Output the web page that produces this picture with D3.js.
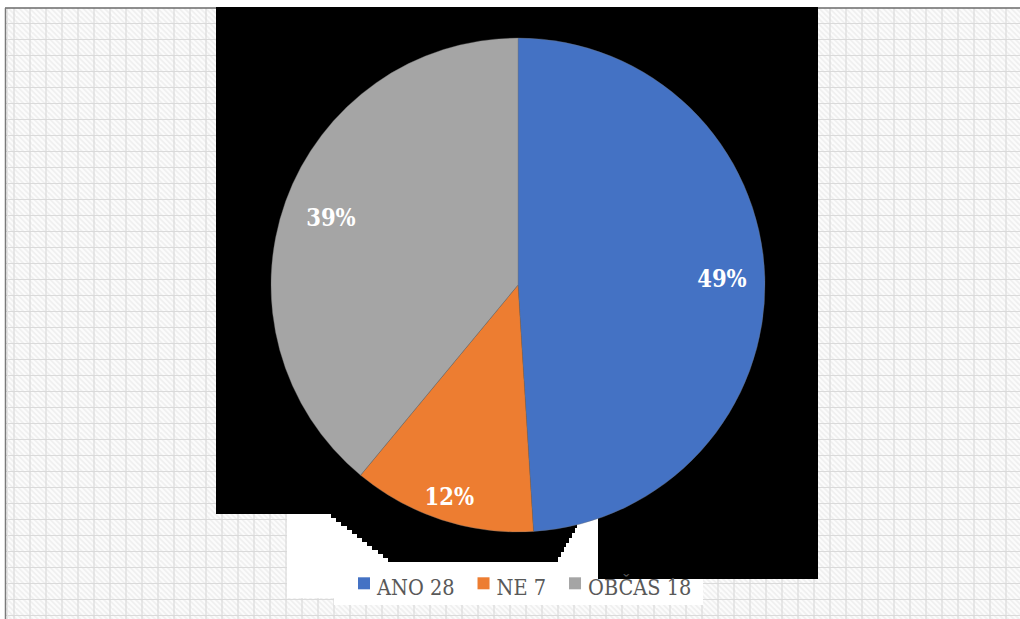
<!DOCTYPE html>
<html>
<head>
<meta charset="utf-8">
<script src="https://cdn.jsdelivr.net/npm/d3@7"></script>
<style>
  html, body { margin: 0; padding: 0; background: #ffffff; overflow: hidden; }
  svg { display: block; }
</style>
</head>
<body>
<svg id="chart" width="1020" height="619"></svg>
<script>
// Survey answers
const categories = ["ANO", "NE", "OBČAS"];
const answerCounts = [28, 7, 18];
const sharePercent = [49, 12, 39];
const sliceColors = ["#4472C4", "#ED7D31", "#A5A5A5"];

const W = 1020, H = 619;
const svg = d3.select("#chart");
const defs = svg.append("defs");

// ---- sheet background: diagonal hatching + cell grid ----
const hatch = defs.append("pattern")
  .attr("id", "hatch").attr("patternUnits", "userSpaceOnUse")
  .attr("width", 16).attr("height", 16);
hatch.append("rect").attr("width", 16).attr("height", 16).attr("fill", "#fcfcfc");
d3.range(-2, 6).forEach(k => {
  const off = k * 16 / 3;
  hatch.append("line")
    .attr("x1", off - 2).attr("y1", -2).attr("x2", off + 18).attr("y2", 18)
    .attr("stroke", "#f0f0f0").attr("stroke-width", 1.8);
});

const sheet = svg.append("g");
sheet.append("rect").attr("x", 5).attr("y", 8).attr("width", W - 5).attr("height", H - 8)
  .attr("fill", "url(#hatch)");

const gridX = d3.range(14, W, 16);
const gridY = d3.range(23.5, H, 16);
sheet.selectAll("line.gx").data(gridX).join("line").attr("class", "gx")
  .attr("x1", d => d).attr("x2", d => d).attr("y1", 8).attr("y2", H)
  .attr("stroke", "#dadada").attr("stroke-width", 1.2);
sheet.selectAll("line.gy").data(gridY).join("line").attr("class", "gy")
  .attr("x1", 5).attr("x2", W).attr("y1", d => d).attr("y2", d => d)
  .attr("stroke", "#dadada").attr("stroke-width", 1.2);
sheet.append("line").attr("x1", 7.5).attr("x2", 7.5).attr("y1", 8).attr("y2", H)
  .attr("stroke", "#e4e4e4").attr("stroke-width", 1);
sheet.append("line").attr("x1", 5).attr("x2", W).attr("y1", 8).attr("y2", 8)
  .attr("stroke", "#6a6a6a").attr("stroke-width", 1.5);
sheet.append("line").attr("x1", 5.5).attr("x2", 5.5).attr("y1", 8).attr("y2", H)
  .attr("stroke", "#7a7a7a").attr("stroke-width", 1.5);

// ---- chart area fills ----
const plate = svg.append("g").attr("shape-rendering", "crispEdges");
plate.append("path").attr("fill", "#ffffff")
  .attr("d", "M287,514 H598 V562 H703 V605 H334 V598 H287 Z");

// stepped edge between two corners
function stairs(x0, y0, x1, y1, n) {
  let s = "";
  for (let i = 1; i <= n; i++) {
    const xa = x0 + (x1 - x0) * i / n;
    const ya = y0 + (y1 - y0) * i / n;
    s += ` H${xa.toFixed(1)} V${ya.toFixed(1)}`;
  }
  return s;
}
plate.append("path").attr("fill", "#000000")
  .attr("d", "M216,7 H818 V579 H598 V518 H580 V523" +
    stairs(580, 523, 558, 562, 8) +
    " H393" + stairs(393, 562, 331, 514, 12) +
    " H216 Z");

// ---- pie ----
const cx = 518, cy = 285, R = 247;
const pie = d3.pie().sort(null).value(d => d.share);
const rows = categories.map((c, i) => ({ name: c, count: answerCounts[i], share: sharePercent[i], color: sliceColors[i] }));
const arcs = pie(rows);
const arc = d3.arc().innerRadius(0).outerRadius(R);

const g = svg.append("g").attr("transform", `translate(${cx},${cy})`);
g.selectAll("path.slice").data(arcs).join("path").attr("class", "slice")
  .attr("d", arc).attr("fill", d => d.data.color)
  .attr("stroke", "#6f6f6f").attr("stroke-opacity", 0.6).attr("stroke-width", 0.6);

// data labels (best-fit radius per slice)
const labelRadius = [0.826, 0.9, 0.805];
g.selectAll("text.pct").data(arcs).join("text").attr("class", "pct")
  .attr("transform", (d, i) => {
    const a = (d.startAngle + d.endAngle) / 2;
    const r = R * labelRadius[i];
    return `translate(${r * Math.sin(a)},${-r * Math.cos(a)})`;
  })
  .attr("text-anchor", "middle").attr("dy", "0.36em")
  .attr("font-family", "'DejaVu Serif Condensed', 'DejaVu Serif', serif")
  .attr("font-weight", "bold").attr("font-size", 23.5).attr("fill", "#ffffff")
  .text(d => d.data.share + "%");

// ---- legend ----
const legend = svg.append("g").attr("transform", "translate(358,595)");
let lx = 0;
rows.forEach(d => {
  const item = legend.append("g").attr("transform", `translate(${lx},0)`);
  item.append("rect").attr("x", 0).attr("y", -17.7).attr("width", 12).attr("height", 12)
    .attr("fill", d.color);
  const t = item.append("text").attr("x", 19).attr("y", 0)
    .attr("font-family", "'DejaVu Serif Condensed', 'DejaVu Serif', serif")
    .attr("font-size", 21.5).attr("fill", "#595959")
    .text(`${d.name} ${d.count}`);
  lx += 19 + t.node().getComputedTextLength() + 23;
});
</script>
</body>
</html>
